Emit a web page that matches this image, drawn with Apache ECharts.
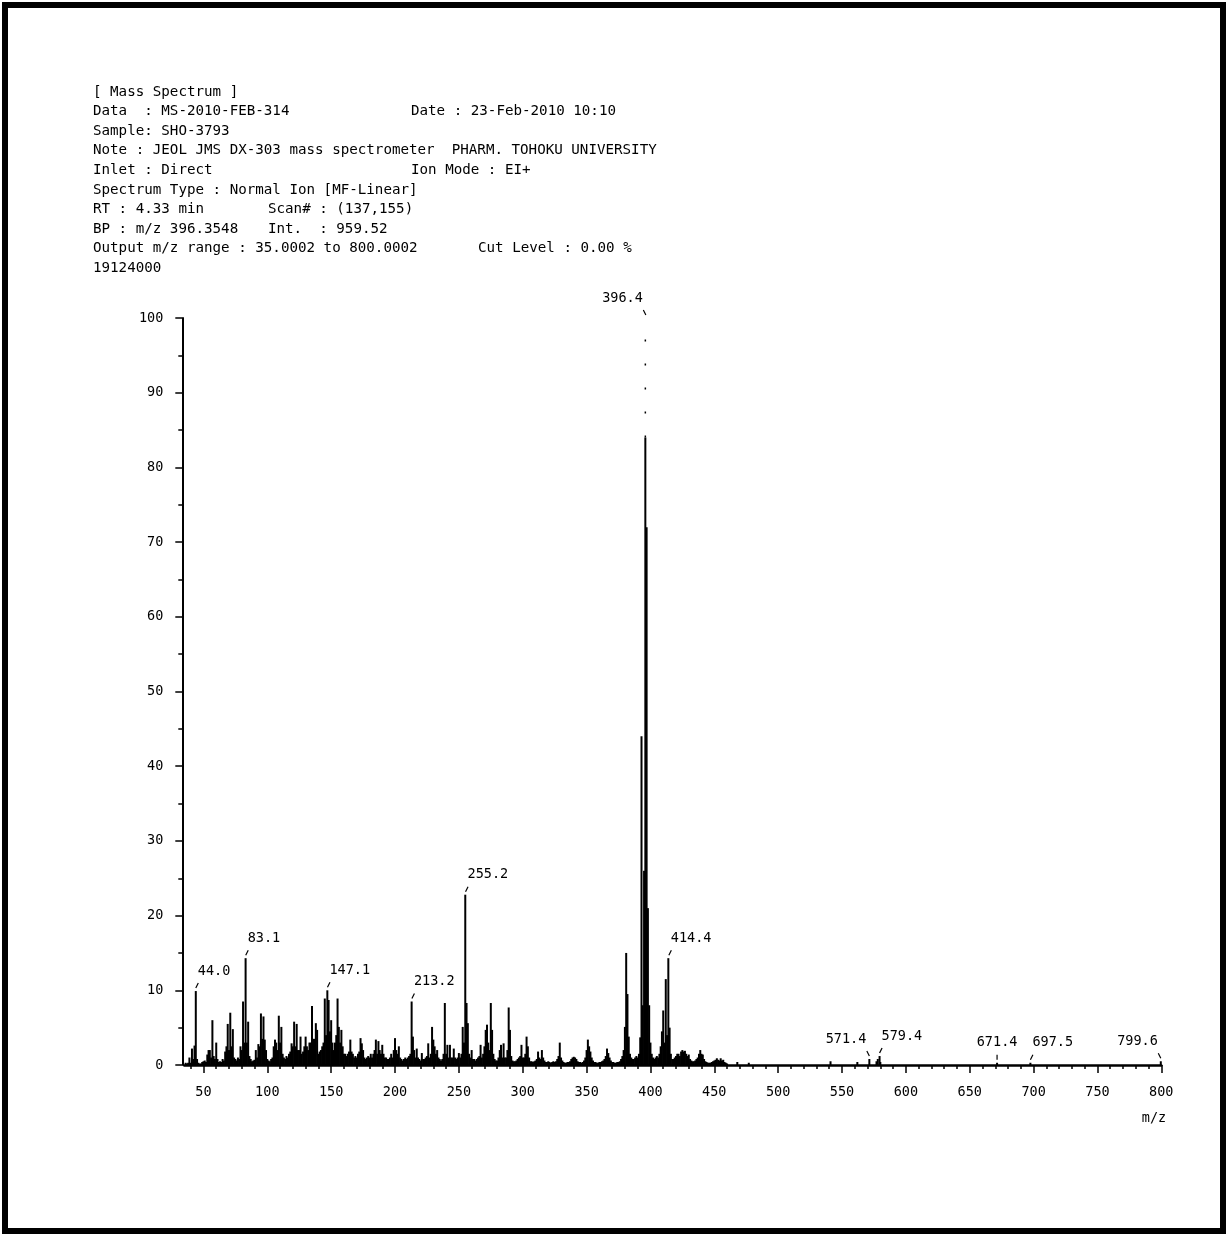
<!DOCTYPE html>
<html><head><meta charset="utf-8">
<script src="https://cdn.jsdelivr.net/npm/echarts@6/dist/echarts.min.js"></script>
<style>html,body{margin:0;padding:0;background:#fff}#c{width:1228px;height:1236px}</style>
</head><body><div id="c"></div>
<script>
// ---------- data ----------
const lowMassStart = 36; // m/z of first entry below, one entry per integer m/z
const lowMassIntensity = [
 0.3,0.2,0.3,1.0,0.3,2.2,0.8,2.6,9.9,0.8,
 0.3,0.2,0.2,0.4,0.5,0.6,0.4,1.4,2.0,2.0,
 1.0,6.0,1.2,0.8,3.0,0.8,0.4,0.5,0.4,0.8,
 0.6,1.8,2.5,5.5,2.0,7.0,2.5,4.8,1.0,0.8,
 0.6,1.0,0.8,2.5,2.0,8.5,3.0,14.3,3.0,5.8,
 1.2,0.8,0.5,0.6,0.7,2.0,1.0,2.8,2.5,6.9,
 3.5,6.5,3.4,2.0,0.8,0.6,0.5,0.8,1.0,2.5,
 3.4,3.0,2.0,6.6,3.0,5.1,1.5,1.0,0.8,1.2,
 1.0,1.5,1.8,2.9,2.5,5.8,2.5,5.5,2.0,2.0,
 3.8,1.5,1.8,2.5,3.8,2.5,2.0,3.0,3.0,7.9,
 3.5,3.5,5.6,4.7,1.5,1.8,2.0,2.5,3.0,8.9,
 4.0,10.0,8.7,4.5,6.0,3.0,2.0,3.0,4.0,8.9,
 5.1,3.0,4.7,2.5,1.5,1.5,1.2,1.5,1.8,3.4,
 1.8,1.5,1.0,1.2,1.0,1.5,1.8,3.6,2.9,2.0,
 1.0,0.8,1.0,1.2,1.0,1.5,1.0,1.5,2.0,3.4,
 1.5,3.2,2.0,1.5,2.7,1.5,1.0,1.0,0.8,0.8,
 1.0,1.5,1.0,2.0,3.6,2.0,1.5,2.5,1.0,0.8,
 0.6,0.8,1.0,0.8,1.0,1.2,1.5,8.5,3.8,2.0,
 1.0,2.2,1.0,0.8,0.6,1.6,0.8,0.8,1.0,1.2,
 2.9,1.0,1.5,5.1,3.4,2.5,1.5,2.0,1.0,0.8,
 0.6,0.8,1.5,8.3,1.5,2.7,1.0,2.7,1.0,1.0,
 2.2,1.0,0.8,1.0,1.6,1.0,1.5,5.1,3.0,22.8,
 8.3,5.6,1.5,1.0,2.0,0.8,0.8,0.6,0.8,1.0,
 1.2,2.7,1.0,1.5,2.5,4.7,5.4,3.0,2.0,8.3,
 4.7,1.5,0.8,0.6,0.6,1.0,2.0,2.7,1.0,2.9,
 1.0,1.0,2.0,7.7,4.7,1.2,0.6,0.5,0.5,0.6,
 0.8,1.0,1.2,2.7,1.0,1.0,1.5,3.8,2.5,1.0,
 0.5,0.5,0.4,0.5,0.6,0.8,1.8,1.0,0.8,2.0,
 1.0,0.6,0.4,0.4,0.5,0.4,0.3,0.4,0.5,0.4,
 0.5,0.8,1.2,3.0,1.0,0.6,0.4,0.3,0.3,0.4,
 0.4,0.5,0.8,1.0,1.1,1.0,0.8,0.5,0.4,0.4,
 0.3,0.4,0.6,1.0,2.0,3.4,2.5,1.8,1.0,0.6,
 0.4,0.4,0.3,0.3,0.4,0.4,0.5,0.6,0.8,1.2,
 2.2,1.6,1.0,0.6,0.4,0.4,0.3,0.3,0.4,0.4,
 0.5,0.8,1.2,2.0,5.1,15.0,9.5,3.8,1.5,1.0,
 0.8,0.8,1.0,1.2,1.0,1.5,3.7,44.0,8.0,26.0,
 100,72,21,8,3,1.5,1.0,0.8,1.0,1.2,
 1.0,1.5,2.5,4.5,7.3,3.0,11.5,4.0,14.3,5.0,
 1.5,0.8,0.8,1.0,1.2,1.5,1.5,1.2,1.8,2.0,
 1.8,1.9,1.5,1.2,1.4,0.8,0.6,0.5,0.5,0.6,
 0.8,1.0,1.5,2.0,1.5,1.4,0.8,0.5,0.4,0.3,
 0.3,0.3,0.4,0.5,0.6,0.7,0.9,0.7,0.6,0.9,
 0.6,0.7,0.4,0.3,0.2
];
const highMassMz        = [468, 477, 541, 562, 571.4, 577, 578, 579.4, 580, 671.4, 697.5, 799.6];
const highMassIntensity = [0.4, 0.3, 0.5, 0.4, 0.8,   0.5, 0.8, 1.2,   0.4, 0.3,   0.3,   0.5];

const peakLabelMz = [44.0, 83.1, 147.1, 213.2, 255.2, 396.4, 414.4, 571.4, 579.4, 671.4, 697.5, 799.6];
const xTickLabels = [50,100,150,200,250,300,350,400,450,500,550,600,650,700,750,800];
const yTickLabels = [0,10,20,30,40,50,60,70,80,90,100];

const headerLines = [
 '[ Mass Spectrum ]',
 'Data  : MS-2010-FEB-314',
 'Sample: SHO-3793',
 'Note : JEOL JMS DX-303 mass spectrometer  PHARM. TOHOKU UNIVERSITY',
 'Inlet : Direct',
 'Spectrum Type : Normal Ion [MF-Linear]',
 'RT : 4.33 min',
 'BP : m/z 396.3548',
 'Output m/z range : 35.0002 to 800.0002',
 '19124000'
];
const headerSecond = [
 {row: 1, text: 'Date : 23-Feb-2010 10:10'},
 {row: 4, text: 'Ion Mode : EI+'},
 {row: 6, text: 'Scan# : (137,155)'},
 {row: 7, text: 'Int.  : 959.52'},
 {row: 8, text: 'Cut Level : 0.00 %'}
];
const axisName = 'm/z';

// ---------- presentation ----------
const FONT = '"DejaVu Sans Mono", "Liberation Mono", monospace';
const headerX = 93, headerY0 = 92, headerDy = 19.6;
const secondX = {1: 411, 4: 411, 6: 268, 7: 268, 8: 478};
const labelSide = ['r','r','r','r','r','l','r','l','r','c','r','l'];
const FADE = 84; // above this the base peak is printed faintly

const sticks = [];
lowMassIntensity.forEach((v, i) => sticks.push([lowMassStart + i, v]));
highMassMz.forEach((m, i) => sticks.push([m, highMassIntensity[i]]));

function topAt(m) {
  let best = 0;
  sticks.forEach(s => { if (Math.abs(s[0] - m) <= 0.6 && s[1] > best) best = s[1]; });
  return best;
}
const labelData = peakLabelMz.map(m => [m, topAt(m)]);

const minorTicks = [];
for (let t = 40; t <= 800; t += 10) minorTicks.push(t);

const graphics = [];
graphics.push({type:'rect', shape:{x:5, y:5, width:1218, height:1226}, style:{fill:'none', stroke:'#000', lineWidth:6}, silent:true});
headerLines.forEach((t, i) => graphics.push({type:'text', x:headerX, y:headerY0 + i*headerDy,
  style:{text:t, font:'14.2px ' + FONT, fill:'#000', align:'left', verticalAlign:'middle'}}));
headerSecond.forEach(h => graphics.push({type:'text', x:secondX[h.row], y:headerY0 + h.row*headerDy,
  style:{text:h.text, font:'14.2px ' + FONT, fill:'#000', align:'left', verticalAlign:'middle'}}));
graphics.push({type:'text', x:1154, y:1118, style:{text:axisName, font:'13.5px ' + FONT, fill:'#000', align:'center', verticalAlign:'middle'}});

const chart = echarts.init(document.getElementById('c'), null, {renderer:'canvas'});
chart.setOption({
  backgroundColor:'#fff',
  animation:false,
  grid:{left:184.3, right:66.7, top:318, bottom:171},
  xAxis:[
    {type:'value', min:35, max:800, position:'bottom',
     axisLine:{show:true, lineStyle:{color:'#000', width:2.5}},
     axisTick:{show:true, customValues:minorTicks, length:4, lineStyle:{color:'#000', width:1.5}},
     axisLabel:{show:false}, splitLine:{show:false}},
    {type:'value', min:35, max:800, position:'bottom',
     axisLine:{show:false},
     axisTick:{show:true, customValues:xTickLabels, length:8, lineStyle:{color:'#000', width:1.5}},
     axisLabel:{show:true, customValues:xTickLabels, margin:20, color:'#000', fontFamily:FONT, fontSize:13.5},
     splitLine:{show:false}}
  ],
  yAxis:{type:'value', min:0, max:100, interval:10, offset:2,
     axisLine:{show:true, lineStyle:{color:'#000', width:2}},
     axisTick:{show:true, length:7, lineStyle:{color:'#000', width:1.5}},
     minorTick:{show:true, splitNumber:2, length:4, lineStyle:{color:'#000', width:1.5}},
     axisLabel:{margin:19, color:'#000', fontFamily:FONT, fontSize:13.5,
       formatter: v => yTickLabels.indexOf(v) >= 0 ? String(v) : ''},
     splitLine:{show:false}},
  graphic:graphics,
  series:[
    {type:'custom', xAxisIndex:0, clip:false, data:sticks,
     renderItem:(params, api) => {
       const m = api.value(0), v = api.value(1);
       const p0 = api.coord([m, 0]);
       const p1 = api.coord([m, Math.min(v, FADE)]);
       const ch = [{type:'line', shape:{x1:p0[0], y1:p0[1], x2:p1[0], y2:p1[1]}, style:{stroke:'#000', lineWidth:2}}];
       if (v > FADE) {
         const p2 = api.coord([m, v]);
         ch.push({type:'line', shape:{x1:p1[0], y1:p1[1], x2:p2[0], y2:p2[1]}, style:{stroke:'#000', lineWidth:1.5, lineDash:[2,22]}});
       }
       return {type:'group', children:ch};
     }},
    {type:'custom', xAxisIndex:0, clip:false, data:labelData,
     renderItem:(params, api) => {
       const i = params.dataIndex;
       const p = api.coord([api.value(0), api.value(1)]);
       const side = labelSide[i];
       const dx = side === 'r' ? 2.5 : side === 'l' ? -2.5 : 0;
       const ch = [{type:'line', shape:{x1:p[0], y1:p[1]-3, x2:p[0]+dx, y2:p[1]-8}, style:{stroke:'#000', lineWidth:1.2}}];
       ch.push({type:'text', x: p[0] + (side === 'r' ? 2 : side === 'l' ? -3 : 0), y: p[1] - 20,
         style:{text: peakLabelMz[i].toFixed(1), font:'13.5px ' + FONT, fill:'#000',
           align: side === 'r' ? 'left' : side === 'l' ? 'right' : 'center', verticalAlign:'middle'}});
       return {type:'group', children:ch};
     }}
  ]
});
</script></body></html>
